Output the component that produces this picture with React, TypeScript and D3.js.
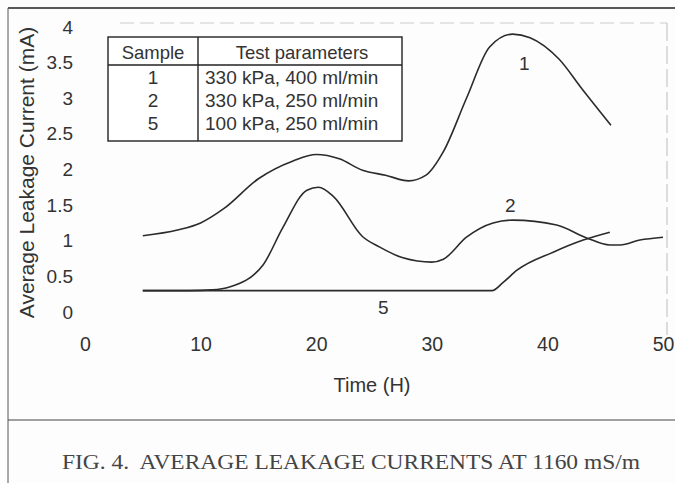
import { useEffect, useRef } from "react";
import * as d3 from "d3";

// sample curves: [time (H), current (mA)]
const sample1 = [
  [5, 1.07], [8, 1.15], [10, 1.25], [12, 1.45], [15, 1.87], [18, 2.12],
  [20, 2.21], [22, 2.15], [24, 1.99], [26, 1.92], [28, 1.84], [29.5, 1.92],
  [31, 2.25], [33, 3.0], [35, 3.72], [37, 3.9], [38.5, 3.85], [41, 3.55],
  [43, 3.13], [45.5, 2.62],
];
const sample2 = [
  [5, 0.3], [9, 0.3], [11, 0.31], [12.5, 0.35], [15.4, 0.66], [17.1, 1.18],
  [19.2, 1.71], [20.2, 1.75], [21.5, 1.62], [24, 1.06], [25.5, 0.91],
  [27.5, 0.76], [30, 0.7], [31, 0.74], [33, 1.05], [35.3, 1.25], [37, 1.29],
  [40.8, 1.22], [43.4, 1.04], [45.4, 0.94], [46.3, 0.94], [48, 1.01], [50, 1.05],
];
const sample5 = [
  [5, 0.3], [15, 0.3], [25, 0.3], [35.2, 0.3], [36.2, 0.42], [37.4, 0.59],
  [40.5, 0.84], [43.1, 1.01], [45.4, 1.12],
];
const curveLabels = [
  { text: "1", t: 38, v: 3.4 },
  { text: "2", t: 36.8, v: 1.4 },
  { text: "5", t: 25.8, v: -0.03 },
];
const xTicks = [0, 10, 20, 30, 40, 50];
const yTicks = [0, 0.5, 1, 1.5, 2, 2.5, 3, 3.5, 4];
const tableHead = ["Sample", "Test parameters"];
const tableRows = [
  ["1", "330 kPa, 400 ml/min"],
  ["2", "330 kPa, 250 ml/min"],
  ["5", "100 kPa, 250 ml/min"],
];
const caption = "FIG. 4.  AVERAGE LEAKAGE CURRENTS AT 1160 mS/m";

const W = 675, H = 483;
const ink = "#2b2b2b";
const sans = "'Liberation Sans', Arial, sans-serif";

function App() {
  const ref = useRef<SVGSVGElement>(null);

  useEffect(() => {
    const svg = d3.select(ref.current);
    svg.selectAll("*").remove();

    const x = d3.scaleLinear().domain([0, 50]).range([85, 663]);
    const y = d3.scaleLinear().domain([0, 4]).range([312, 27]);

    // figure frame (scan borders)
    svg.append("line").attr("x1", 8).attr("x2", W).attr("y1", 8).attr("y2", 8)
      .attr("stroke", "#222").attr("stroke-width", 1.6);
    svg.append("line").attr("x1", 8).attr("x2", 8).attr("y1", 8).attr("y2", H)
      .attr("stroke", "#555").attr("stroke-width", 1);
    svg.append("line").attr("x1", 8).attr("x2", W).attr("y1", 420).attr("y2", 420)
      .attr("stroke", "#444").attr("stroke-width", 1);
    svg.append("line").attr("x1", 120).attr("x2", 667).attr("y1", 23).attr("y2", 23)
      .attr("stroke", "#ccc").attr("stroke-dasharray", "14 6");
    svg.append("line").attr("x1", 667).attr("x2", 667).attr("y1", 23).attr("y2", 335)
      .attr("stroke", "#bbb").attr("stroke-dasharray", "18 5");

    // y axis labels
    svg.append("g")
      .attr("transform", "translate(73,0)")
      .call(d3.axisLeft(y).tickValues(yTicks).tickSize(0).tickPadding(0)
        .tickFormat(d3.format("")))
      .call(g => g.select(".domain").remove())
      .selectAll("text")
      .attr("font-family", sans).attr("font-size", 19).attr("fill", "#333");

    // x axis labels
    svg.append("g")
      .attr("transform", "translate(0,337)")
      .call(d3.axisBottom(x).tickValues(xTicks).tickSize(0).tickPadding(0))
      .call(g => g.select(".domain").remove())
      .selectAll("text")
      .attr("font-family", sans).attr("font-size", 19.5).attr("fill", "#333");

    svg.append("text")
      .attr("transform", `translate(34,${y(2) + 3}) rotate(-90)`)
      .attr("text-anchor", "middle")
      .attr("font-family", sans).attr("font-size", 21).attr("fill", "#333")
      .text("Average Leakage Current (mA)");

    svg.append("text")
      .attr("x", 372).attr("y", 392)
      .attr("text-anchor", "middle")
      .attr("font-family", sans).attr("font-size", 20).attr("fill", "#333")
      .text("Time (H)");

    // curves
    const line = d3.line<number[]>()
      .x(d => x(d[0]))
      .y(d => y(d[1]))
      .curve(d3.curveMonotoneX);
    [sample1, sample2, sample5].forEach(s => {
      svg.append("path").datum(s)
        .attr("fill", "none").attr("stroke", ink).attr("stroke-width", 1.6)
        .attr("d", line);
    });

    svg.selectAll(".clabel").data(curveLabels).enter().append("text")
      .attr("x", d => x(d.t)).attr("y", d => y(d.v))
      .attr("text-anchor", "middle")
      .attr("font-family", sans).attr("font-size", 19).attr("fill", "#333")
      .text(d => d.text);

    // legend table
    const tbl = svg.append("g");
    tbl.append("rect").attr("x", 108).attr("y", 37).attr("width", 294).attr("height", 104)
      .attr("fill", "#fff").attr("stroke", "#222").attr("stroke-width", 1.4);
    tbl.append("line").attr("x1", 108).attr("x2", 402).attr("y1", 65).attr("y2", 65)
      .attr("stroke", "#222").attr("stroke-width", 1.4);
    tbl.append("line").attr("x1", 198).attr("x2", 198).attr("y1", 37).attr("y2", 141)
      .attr("stroke", "#222").attr("stroke-width", 1.4);
    tbl.append("text").attr("x", 153).attr("y", 59).attr("text-anchor", "middle")
      .attr("font-family", sans).attr("font-size", 18.5).attr("fill", "#333").text(tableHead[0]);
    tbl.append("text").attr("x", 302).attr("y", 59).attr("text-anchor", "middle")
      .attr("font-family", sans).attr("font-size", 18.5).attr("fill", "#333").text(tableHead[1]);
    tableRows.forEach((r, i) => {
      tbl.append("text").attr("x", 153).attr("y", 84 + i * 23).attr("text-anchor", "middle")
        .attr("font-family", sans).attr("font-size", 19).attr("fill", "#333").text(r[0]);
      tbl.append("text").attr("x", 205).attr("y", 84 + i * 23)
        .attr("font-family", sans).attr("font-size", 19).attr("fill", "#333").text(r[1]);
    });

    // caption
    svg.append("text")
      .attr("x", 62).attr("y", 469)
      .attr("font-family", "'Liberation Serif', 'Times New Roman', serif")
      .attr("font-size", 20).attr("fill", "#444")
      .attr("textLength", 578).attr("lengthAdjust", "spacingAndGlyphs")
      .style("white-space", "pre")
      .text(caption);
  });

  return (
    <svg ref={ref} width={W} height={H}
      style={{ position: "absolute", left: 0, top: 0, background: "#fdfdfd" }} />
  );
}

export default App;
